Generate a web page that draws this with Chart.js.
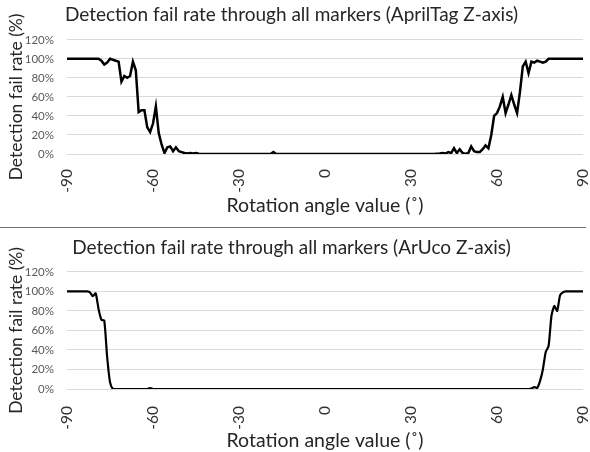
<!DOCTYPE html>
<html>
<head>
<meta charset="utf-8">
<script src="https://cdn.jsdelivr.net/npm/chart.js@4"></script>
<style>
  html, body { margin: 0; padding: 0; background: #fff; }
  .box { position: absolute; left: 0; width: 590px; }
  #top { top: 0; height: 226px; }
  #sep { position: absolute; left: 0; top: 227px; width: 586px; border-top: 1px solid #6f6f6f; }
  #bottom { top: 228px; height: 224px; }
</style>
</head>
<body>
<div class="box" id="top"><canvas id="aprilChart"></canvas></div>
<div id="sep"></div>
<div class="box" id="bottom"><canvas id="arucoChart"></canvas></div>
<script>
// Rotation angles (deg), one reading per degree
const angles = [
  -90, -89, -88, -87, -86, -85, -84, -83, -82, -81, -80, -79, -78, -77, -76, -75, -74, -73, -72, -71,
  -70, -69, -68, -67, -66, -65, -64, -63, -62, -61, -60, -59, -58, -57, -56, -55, -54, -53, -52, -51,
  -50, -49, -48, -47, -46, -45, -44, -43, -42, -41, -40, -39, -38, -37, -36, -35, -34, -33, -32, -31,
  -30, -29, -28, -27, -26, -25, -24, -23, -22, -21, -20, -19, -18, -17, -16, -15, -14, -13, -12, -11,
  -10, -9, -8, -7, -6, -5, -4, -3, -2, -1, 0, 1, 2, 3, 4, 5, 6, 7, 8, 9,
  10, 11, 12, 13, 14, 15, 16, 17, 18, 19, 20, 21, 22, 23, 24, 25, 26, 27, 28, 29,
  30, 31, 32, 33, 34, 35, 36, 37, 38, 39, 40, 41, 42, 43, 44, 45, 46, 47, 48, 49,
  50, 51, 52, 53, 54, 55, 56, 57, 58, 59, 60, 61, 62, 63, 64, 65, 66, 67, 68, 69,
  70, 71, 72, 73, 74, 75, 76, 77, 78, 79, 80, 81, 82, 83, 84, 85, 86, 87, 88, 89,
  90
];

// Fail rate (%) - AprilTag
const aprilFail = [
  100, 100, 100, 100, 100, 100, 100, 100, 100, 100, 100, 100, 98, 94, 96, 100, 99, 98, 97, 76,
  82, 80, 82, 97, 88, 44, 46, 46, 28, 23, 32, 50, 22, 10, 1, 7, 8, 3, 7, 3,
  2, 1, 0.5, 1, 0.5, 1, 0.3, 0, 0, 0, 0, 0, 0, 0, 0, 0, 0, 0, 0, 0,
  0, 0, 0, 0, 0, 0, 0, 0, 0, 0, 0, 0, 2, 0, 0, 0, 0, 0, 0, 0,
  0, 0, 0, 0, 0, 0, 0, 0, 0, 0, 0, 0, 0, 0, 0, 0, 0, 0, 0, 0,
  0, 0, 0, 0, 0, 0, 0, 0, 0, 0, 0, 0, 0, 0, 0, 0, 0, 0, 0, 0,
  0, 0, 0, 0, 0, 0, 0, 0, 0, 0.3, 0.5, 1, 0.5, 2, 1, 6, 1, 5, 1, 0,
  1, 8, 3, 2, 2, 5, 9, 6, 20, 40, 43, 50, 60, 43, 52, 62, 52, 43, 65, 92,
  97, 85, 97, 96, 98, 97, 96, 97, 100, 100, 100, 100, 100, 100, 100, 100, 100, 100, 100, 100,
  100
];

// Fail rate (%) - ArUco
const arucoFail = [
  100, 100, 100, 100, 100, 100, 100, 100, 99, 95, 98, 82, 71, 70, 33, 7, 0, 0, 0, 0,
  0, 0, 0, 0, 0, 0, 0, 0, 0, 0.8, 0, 0, 0, 0, 0, 0, 0, 0, 0, 0,
  0, 0, 0, 0, 0, 0, 0, 0, 0, 0, 0, 0, 0, 0, 0, 0, 0, 0, 0, 0,
  0, 0, 0, 0, 0, 0, 0, 0, 0, 0, 0, 0, 0, 0, 0, 0, 0, 0, 0, 0,
  0, 0, 0, 0, 0, 0, 0, 0, 0, 0, 0, 0, 0, 0, 0, 0, 0, 0, 0, 0,
  0, 0, 0, 0, 0, 0, 0, 0, 0, 0, 0, 0, 0, 0, 0, 0, 0, 0, 0, 0,
  0, 0, 0, 0, 0, 0, 0, 0, 0, 0, 0, 0, 0, 0, 0, 0, 0, 0, 0, 0,
  0, 0, 0, 0, 0, 0, 0, 0, 0, 0, 0, 0, 0, 0, 0, 0, 0, 0, 0, 0,
  0, 0, 0.5, 2, 1, 8, 20, 38, 44, 75, 85, 80, 96, 99, 100, 100, 100, 100, 100, 100,
  100
];

const xTicks = [-90, -60, -30, 0, 30, 60, 90];
const yTicks = [0, 20, 40, 60, 80, 100, 120];

const FONT = 'Lato, "Open Sans", sans-serif';

function makeChart(id, title, values, opt) {
  const ctx = document.getElementById(id).getContext('2d');
  return new Chart(ctx, {
    type: 'line',
    data: {
      datasets: [{
        data: angles.map((a, i) => ({ x: a, y: values[i] })),
        borderColor: '#000',
        borderWidth: opt.lineWidth,
        pointRadius: 0,
        tension: opt.tension,
        fill: false
      }]
    },
    options: {
      responsive: true,
      maintainAspectRatio: false,
      animation: false,
      layout: { padding: { left: 0, right: 7, top: 0, bottom: 0 } },
      plugins: {
        legend: { display: false },
        tooltip: { enabled: false },
        title: {
          display: true,
          text: title,
          color: '#262626',
          font: { family: FONT, size: 19, weight: 'normal' },
          padding: { top: opt.titleTop, bottom: opt.titleBottom }
        }
      },
      scales: {
        x: {
          type: 'linear',
          min: -90, max: 90,
          afterBuildTicks: s => { s.ticks = xTicks.map(v => ({ value: v })); },
          afterFit: s => {
            s.height = opt.xHeight;
            s.paddingLeft = 0;
            s.paddingRight = 0;
          },
          grid: { display: false, drawTicks: false },
          border: { display: false },
          ticks: {
            color: '#333',
            font: { family: FONT, size: 15.5 },
            minRotation: 90, maxRotation: 90,
            padding: opt.xTickPad
          },
          title: {
            display: true,
            text: 'Rotation angle value (˚)',
            color: '#262626',
            font: { family: FONT, size: 19.5 },
            padding: { top: 0, bottom: opt.xTitleBottom }
          }
        },
        y: {
          min: 0, max: 120,
          afterBuildTicks: s => { s.ticks = yTicks.map(v => ({ value: v })); },
          afterFit: s => { s.width = 67; },
          grid: { color: '#d9d9d9', drawTicks: false },
          border: { display: false },
          ticks: {
            color: '#595959',
            font: { family: FONT, size: 11.5 },
            padding: 13,
            callback: v => v + '%'
          },
          title: {
            display: true,
            text: 'Detection fail rate (%)',
            color: '#262626',
            font: { family: FONT, size: 17.5 },
            padding: { top: 6, bottom: 0 }
          }
        }
      }
    }
  });
}

makeChart('aprilChart', 'Detection fail rate through all markers (AprilTag Z-axis)', aprilFail, {
  lineWidth: 2.5, tension: 0, titleTop: 3, titleBottom: 14,
  xHeight: 72, xTickPad: 15, xTitleBottom: 9
});

makeChart('arucoChart', 'Detection fail rate through all markers (ArUco Z-axis)', arucoFail, {
  lineWidth: 2.2, tension: 0.2, titleTop: 8, titleBottom: 13,
  xHeight: 63, xTickPad: 17, xTitleBottom: 0
});
</script>
</body>
</html>
